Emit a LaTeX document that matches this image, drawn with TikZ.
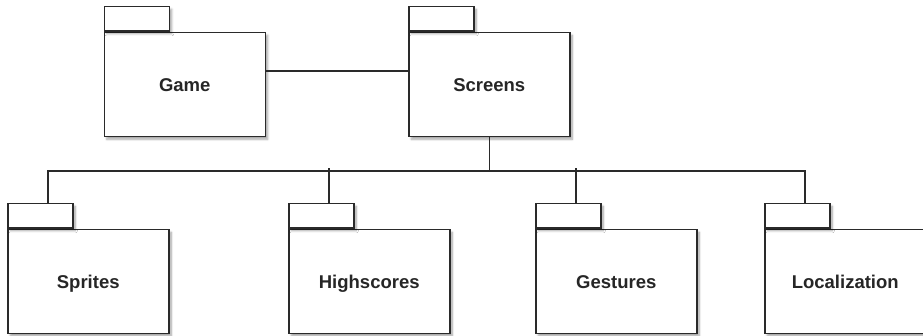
\documentclass[tikz,border=0pt]{standalone}
\usepackage{fontspec}
\setmainfont{Liberation Sans}
\usetikzlibrary{calc,shadows.blur}
\definecolor{linec}{HTML}{2A2A2A}
\definecolor{textc}{HTML}{262626}
\tikzset{
  x=1pt, y=-1pt,
  pkgbody/.style={draw=linec, line width=1.5pt, fill=white, minimum width=161pt, minimum height=104pt,
    inner sep=0pt, anchor=north west, text=textc, text height=13.5pt, text depth=0.5pt,
    font=\fontsize{18.5}{22}\selectfont\bfseries,
    blur shadow={shadow xshift=2.5pt, shadow yshift=-2.5pt, shadow blur steps=6, shadow opacity=35}},
  pkgtab/.style={draw=linec, line width=1.5pt, fill=white, minimum width=65pt, minimum height=24.5pt,
    inner sep=0pt, anchor=south west,
    blur shadow={shadow xshift=2.5pt, shadow yshift=-2.5pt, shadow blur steps=6, shadow opacity=35}},
  conn/.style={draw=linec, line width=1.5pt}
}
\begin{document}
\begin{tikzpicture}
\useasboundingbox (0,0) rectangle (923,336);
% top packages
\node[pkgbody] (game) at (103.5,32) {Game};
\node[pkgtab] (gametab) at (game.north west) {};
\node[pkgbody] (screens) at (408,32) {Screens};
\node[pkgtab] (screenstab) at (screens.north west) {};
% bottom packages
\node[pkgbody] (sprites) at (7,229) {Sprites};
\node[pkgtab] (spritestab) at (sprites.north west) {};
\node[pkgbody] (highscores) at (288,229) {Highscores};
\node[pkgtab] (highscorestab) at (highscores.north west) {};
\node[pkgbody] (gestures) at (535,229) {Gestures};
\node[pkgtab] (gesturestab) at (gestures.north west) {};
\node[pkgbody] (localization) at (764,229) {Localization};
\node[pkgtab] (localizationtab) at (localization.north west) {};
% connectors
\draw[conn] ($(game.north east)+(0,39)$) -- ($(screens.north west)+(0,39)$);
\coordinate (bus) at ($(screens.south)+(0,33.5)$);
\draw[conn] (screens.south) -- (bus);
\draw[conn] ($(spritestab.north west)+(41,0)$) |- (bus);
\draw[conn] ($(localizationtab.north west)+(41,0)$) |- (bus);
\draw[conn] ($(highscorestab.north west)+(41,0)$) -- ($(highscorestab.north west)+(41,-35)$);
\draw[conn] ($(gesturestab.north west)+(41,0)$) -- ($(gesturestab.north west)+(41,-35)$);
\end{tikzpicture}
\end{document}
